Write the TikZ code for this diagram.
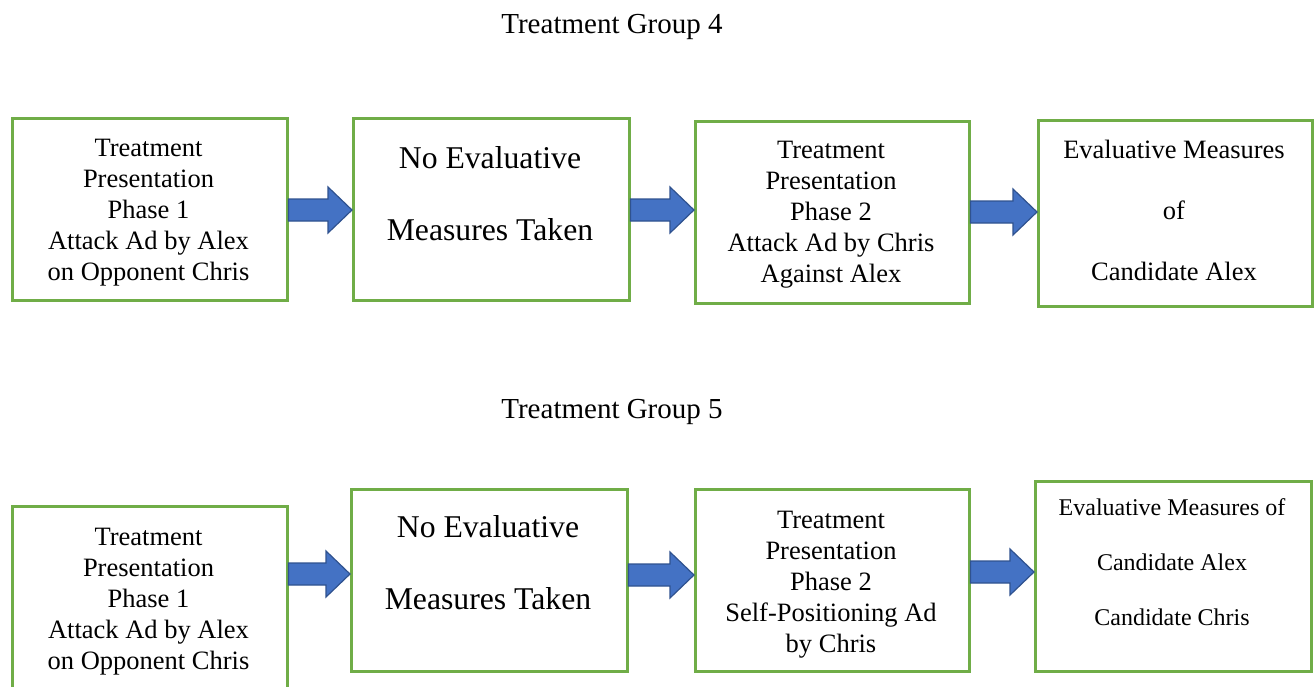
\documentclass[tikz,border=0pt]{standalone}
\usepackage{fontspec}
\setmainfont{Liberation Serif}
\usetikzlibrary{calc}
\definecolor{boxgreen}{HTML}{70AD47}
\definecolor{arrowblue}{HTML}{4472C4}
\definecolor{arrowdark}{HTML}{2F528F}
\tikzset{
  box/.style={draw=boxgreen, line width=2.5pt, rectangle, inner sep=0pt, anchor=north west},
  txt/.style={align=center, inner sep=0pt, font=\rmfamily\fontsize{26.5}{31}\selectfont},
  bigtxt/.style={align=center, inner sep=0pt, font=\rmfamily\fontsize{31.7}{72}\selectfont},
  evaltxt/.style={align=center, inner sep=0pt, font=\rmfamily\fontsize{26.5}{61}\selectfont},
  evalsmall/.style={align=center, inner sep=0pt, font=\rmfamily\fontsize{24}{55}\selectfont},
  titletxt/.style={inner sep=0pt, font=\rmfamily\fontsize{29}{34}\selectfont},
  barrow/.style={fill=arrowblue, draw=arrowdark, line width=1.2pt, line join=miter}
}
\newcommand\blockarrow[3]{%
  \draw[barrow] let \p1=(#1.east), \p2=(#2.west) in
    (\x1,#3+11pt) -- (\x2-24pt,#3+11pt) -- (\x2-24pt,#3+23pt) -- (\x2,#3)
    -- (\x2-24pt,#3-23pt) -- (\x2-24pt,#3-11pt) -- (\x1,#3-11pt) -- cycle;}
\begin{document}
\begin{tikzpicture}
\useasboundingbox (0pt,0pt) rectangle (1314pt,-686pt);

% Titles
\node[titletxt] (t4) at (612pt,-27pt) {Treatment Group 4};
\node[titletxt] (t5) at (612pt,-412pt) {Treatment Group 5};

% Top row boxes
\node[box, minimum width=275pt, minimum height=182pt] (a1) at (11pt,-117pt) {};
\node[box, minimum width=276pt, minimum height=182pt] (a2) at (352pt,-117pt) {};
\node[box, minimum width=274pt, minimum height=182pt] (a3) at (694pt,-120pt) {};
\node[box, minimum width=274pt, minimum height=186pt] (a4) at (1037pt,-119pt) {};

\node[txt] (a1t) at (148.5pt,-213pt) {Treatment\\Presentation\\Phase 1\\Attack Ad by Alex\\on Opponent Chris};
\node[bigtxt] (a2t) at (490pt,-194pt) {No Evaluative\\Measures Taken};
\node[txt] (a3t) at (831pt,-215pt) {Treatment\\Presentation\\Phase 2\\Attack Ad by Chris\\Against Alex};
\node[evaltxt] (a4t) at (1174pt,-210pt) {Evaluative Measures\\of\\Candidate Alex};

% Bottom row boxes
\node[box, minimum width=275pt, minimum height=188pt] (b1) at (11pt,-505pt) {};
\node[box, minimum width=276pt, minimum height=182pt] (b2) at (350pt,-488pt) {};
\node[box, minimum width=274pt, minimum height=182pt] (b3) at (694pt,-488pt) {};
\node[box, minimum width=276pt, minimum height=190pt] (b4) at (1034pt,-480pt) {};

\node[txt] (b1t) at (148.5pt,-602pt) {Treatment\\Presentation\\Phase 1\\Attack Ad by Alex\\on Opponent Chris};
\node[bigtxt] (b2t) at (488pt,-563pt) {No Evaluative\\Measures Taken};
\node[txt] (b3t) at (831pt,-585pt) {Treatment\\Presentation\\Phase 2\\Self-Positioning Ad\\by Chris};
\node[evalsmall] (b4t) at (1172pt,-562pt) {Evaluative Measures of\\Candidate Alex\\Candidate Chris};

% Arrows
\blockarrow{a1}{a2}{-210pt}
\blockarrow{a2}{a3}{-210pt}
\blockarrow{a3}{a4}{-212pt}
\blockarrow{b1}{b2}{-574pt}
\blockarrow{b2}{b3}{-575pt}
\blockarrow{b3}{b4}{-572pt}
\end{tikzpicture}
\end{document}
